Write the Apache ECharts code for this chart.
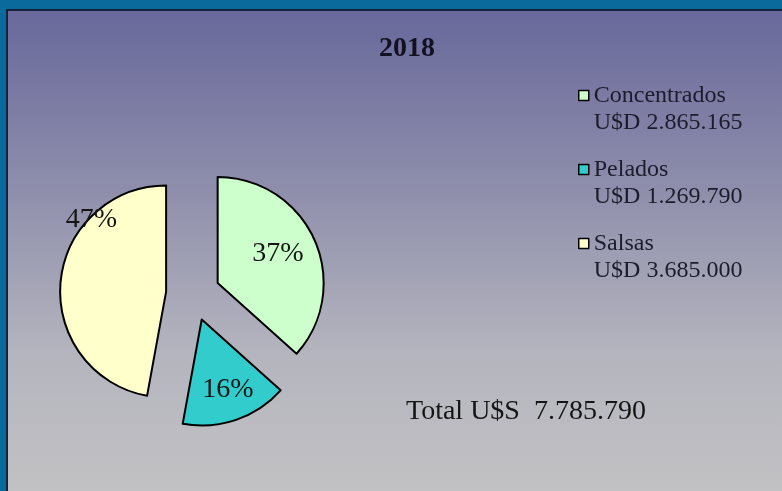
<!DOCTYPE html>
<html>
<head>
<meta charset="utf-8">
<title>2018</title>
<script src="https://cdn.jsdelivr.net/npm/echarts@6/dist/echarts.min.js"></script>
<style>
  html, body {
    margin: 0;
    padding: 0;
    background: #0a6a9c;
  }
  #chart {
    width: 782px;
    height: 491px;
  }
</style>
</head>
<body>
<div id="chart"></div>
<script>
  // datos
  var categories = ['Concentrados', 'Pelados', 'Salsas'];
  var values = [2865165, 1269790, 3685000];
  var valueLabels = ['U$D 2.865.165', 'U$D 1.269.790', 'U$D 3.685.000'];
  var colors = ['#ccffcc', '#33cccc', '#ffffcc'];
  var chartTitle = '2018';
  var totalText = 'Total U$S  7.785.790';

  var serif = "'Liberation Serif', 'DejaVu Serif', serif";
  // ajuste fino de las etiquetas (dx, dy)
  var labelShift = [[9, -7], [8, 17], [-19, -67]];

  var chart = echarts.init(document.getElementById('chart'));

  var pieData = categories.map(function (name, i) {
    return {
      name: name,
      value: values[i],
      selected: true,
      itemStyle: {color: colors[i]},
      select: {itemStyle: {color: colors[i], borderColor: '#000', borderWidth: 2}}
    };
  });

  chart.setOption({
    animation: false,
    graphic: [{
      type: 'rect',
      z: -10,
      shape: {x: 7, y: 10, width: 780, height: 486},
      style: {
        fill: new echarts.graphic.LinearGradient(0, 0, 0, 1, [
          {offset: 0, color: '#68689b'},
          {offset: 0.35, color: '#8c8cab'},
          {offset: 0.7, color: '#b4b4be'},
          {offset: 1, color: '#c2c2c4'}
        ]),
        stroke: '#14243c',
        lineWidth: 2
      }
    }],
    title: [{
      text: chartTitle,
      left: 407,
      textAlign: 'center',
      top: 35,
      padding: 0,
      textStyle: {fontFamily: serif, fontSize: 28, fontWeight: 'bold', color: '#111122'}
    }, {
      text: totalText,
      left: 406,
      top: 398,
      padding: 0,
      textStyle: {fontFamily: serif, fontSize: 28, fontWeight: 'normal', color: '#151515'}
    }],
    legend: {
      orient: 'vertical',
      left: 578,
      top: 55,
      padding: 0,
      itemWidth: 10,
      itemHeight: 10,
      itemGap: -7,
      icon: 'rect',
      selectedMode: false,
      itemStyle: {borderColor: '#000', borderWidth: 1.5},
      textStyle: {
        fontFamily: serif,
        fontSize: 24,
        lineHeight: 27,
        color: '#1c1c2c'
      },
      // linea vacia arriba para que el cuadrado quede a la altura del nombre
      formatter: function (name) {
        return ' \n' + name + '\n' + valueLabels[categories.indexOf(name)];
      },
      data: categories
    },
    series: [{
      type: 'pie',
      center: [193, 294],
      radius: 106,
      startAngle: 90,
      selectedMode: 'multiple',
      selectedOffset: 27,
      percentPrecision: 0,
      emphasis: {disabled: true},
      itemStyle: {borderColor: '#000', borderWidth: 2},
      label: {
        position: 'inside',
        formatter: '{d}%',
        fontFamily: serif,
        fontSize: 28,
        color: '#151515'
      },
      labelLine: {show: false},
      labelLayout: function (params) {
        var s = labelShift[params.dataIndex];
        return {dx: s[0], dy: s[1]};
      },
      data: pieData
    }]
  });
</script>
</body>
</html>
